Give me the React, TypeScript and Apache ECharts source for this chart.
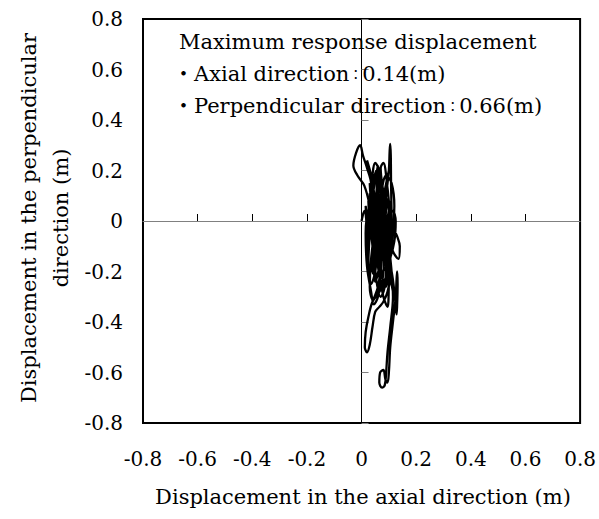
import React, { useEffect, useRef } from "react";
import * as echarts from "echarts";

const axialDisp = [
  0.0, 0.01, 0.02, 0.015, 0.03, 0.025, 0.04, 0.03, 0.05, 0.035,
  0.02, 0.005, -0.005, -0.02, -0.03, -0.015, 0.01, 0.03, 0.045, 0.06,
  0.07, 0.065, 0.05, 0.04, 0.05, 0.065, 0.075, 0.085, 0.095, 0.09,
  0.075, 0.06, 0.045, 0.03, 0.02, 0.035, 0.055, 0.075, 0.1, 0.115,
  0.11, 0.095, 0.08, 0.07, 0.08, 0.095, 0.11, 0.13, 0.14, 0.135,
  0.115, 0.09, 0.06, 0.03, 0.015, 0.02, 0.035, 0.045, 0.06, 0.07,
  0.08, 0.09, 0.1, 0.103, 0.105, 0.107, 0.108, 0.11, 0.112, 0.1,
  0.08, 0.06, 0.04, 0.025, 0.015, 0.012, 0.02, 0.03, 0.04, 0.05,
  0.065, 0.08, 0.095, 0.105, 0.1, 0.085, 0.07, 0.055, 0.045, 0.04,
  0.045, 0.055, 0.07, 0.085, 0.1, 0.115, 0.12, 0.11, 0.09, 0.07,
  0.05, 0.035, 0.03, 0.04, 0.06, 0.075, 0.09, 0.105, 0.1, 0.105,
  0.115, 0.105, 0.095, 0.09, 0.085, 0.075, 0.065, 0.068, 0.08, 0.088,
  0.095, 0.1, 0.105, 0.115, 0.125, 0.13, 0.132, 0.13, 0.128, 0.122,
  0.11, 0.09, 0.07, 0.05, 0.035, 0.03, 0.04, 0.055, 0.065, 0.07,
  0.08, 0.085, 0.08, 0.07, 0.06, 0.05, 0.045, 0.05, 0.065, 0.08,
  0.09, 0.08, 0.06, 0.045, 0.04, 0.055, 0.07, 0.075, 0.065, 0.05,
  0.045, 0.055, 0.065, 0.06, 0.07, 0.09, 0.1, 0.085, 0.06, 0.04,
  0.025, 0.02, 0.03, 0.05, 0.06, 0.055, 0.05, 0.06, 0.08, 0.095,
  0.1, 0.105, 0.1, 0.085, 0.07, 0.06, 0.065, 0.08, 0.09, 0.09,
  0.08, 0.065, 0.045, 0.03, 0.025, 0.035, 0.05, 0.06, 0.065, 0.06,
  0.045, 0.035, 0.04, 0.055, 0.075, 0.1, 0.12, 0.125, 0.115, 0.095,
  0.075, 0.06, 0.05, 0.05
];

const perpDisp = [
  0.0, 0.04, -0.03, 0.06, -0.06, 0.08, -0.1, 0.11, -0.14, 0.15,
  0.21, 0.26, 0.3, 0.27, 0.22, 0.18, 0.14, 0.06, -0.05, -0.16,
  -0.23, -0.15, 0.02, 0.17, 0.23, 0.2, 0.1, -0.05, -0.18, -0.26,
  -0.22, -0.08, 0.09, 0.19, 0.24, 0.18, 0.05, -0.09, -0.2, -0.28,
  -0.2, -0.04, 0.11, 0.21, 0.23, 0.13, -0.01, -0.06, -0.1, -0.15,
  -0.12, -0.02, 0.08, 0.06, -0.05, -0.18, -0.28, -0.33, -0.3, -0.18,
  -0.04, 0.1, 0.2, 0.28, 0.305, 0.26, 0.15, 0.03, -0.08, -0.18,
  -0.25, -0.29, -0.32, -0.38, -0.44, -0.5, -0.52, -0.49, -0.42, -0.36,
  -0.34, -0.32, -0.28, -0.22, -0.12, 0.0, 0.12, 0.2, 0.15, 0.02,
  -0.12, -0.24, -0.3, -0.26, -0.15, -0.05, 0.06, 0.15, 0.18, 0.1,
  -0.02, -0.15, -0.26, -0.31, -0.26, -0.15, -0.03, 0.08, 0.0, -0.15,
  -0.3, -0.42, -0.52, -0.6, -0.65, -0.66, -0.64, -0.6, -0.59, -0.63,
  -0.64, -0.6, -0.5, -0.4, -0.3, -0.2, -0.25, -0.34, -0.37, -0.3,
  -0.2, -0.12, -0.06, -0.01, 0.08, 0.15, 0.1, -0.03, -0.15, -0.27,
  -0.2, -0.08, 0.05, 0.15, 0.1, -0.03, -0.17, -0.24, -0.18, -0.06,
  0.06, 0.11, 0.04, -0.08, -0.2, -0.22, -0.11, 0.0, 0.06, -0.02,
  -0.1, -0.15, -0.08, -0.03, 0.05, 0.14, 0.2, 0.12, -0.04, -0.16,
  -0.22, -0.1, 0.03, 0.16, 0.22, 0.12, -0.02, -0.18, -0.3, -0.34,
  -0.25, -0.1, 0.04, 0.1, 0.0, -0.12, -0.22, -0.27, -0.18, -0.05,
  0.06, 0.12, 0.06, -0.06, -0.18, -0.25, -0.2, -0.08, 0.04, 0.14,
  0.18, 0.1, -0.04, -0.14, -0.2, -0.16, -0.08, 0.0, 0.04, -0.02,
  -0.1, -0.16, -0.1, -0.02
];

const xTitle = "Displacement in the axial direction (m)";
const yTitle = "Displacement in the perpendicular\ndirection (m)";
const noteTitle = "Maximum response displacement";
const noteLabels = ["Axial direction", "Perpendicular direction"];
const noteValues = ["0.14(m)", "0.66(m)"];

const FONT = '"DejaVu Serif", "Noto Sans CJK JP", serif';

export default function App() {
  const ref = useRef<HTMLDivElement>(null);
  useEffect(() => {
    if (!ref.current) return;
    const chart = echarts.init(ref.current, null, { renderer: "svg" });
    const data = axialDisp.map((x, i) => [x, perpDisp[i]]);
    const fmt = (v: number) => (Math.abs(v) < 1e-9 ? "0" : v.toFixed(1));
    const gridL = 143, gridT = 19, gridW = 440, gridH = 404;
    const textStyle = { font: `21px ${FONT}`, fill: "#000", verticalAlign: "middle" };
    chart.setOption({
      animation: false,
      grid: {
        left: gridL, top: gridT, width: gridW, height: gridH,
        show: true, borderColor: "#000", borderWidth: 2, backgroundColor: "#fff",
      },
      xAxis: [
        {
          type: "value", min: -0.8, max: 0.8, interval: 0.2, position: "bottom",
          axisLine: { show: false, onZero: false },
          axisTick: { show: false },
          splitLine: { show: false },
          axisLabel: { margin: 26, color: "#000", fontFamily: FONT, fontSize: 20, formatter: fmt },
        },
        {
          type: "value", min: -0.8, max: 0.8, interval: 0.2, position: "bottom",
          axisLine: { show: true, onZero: true, lineStyle: { color: "#808080", width: 1 } },
          axisTick: { show: true, inside: true, length: 7, lineStyle: { color: "#000", width: 1 } },
          splitLine: { show: false },
          axisLabel: { show: false },
        },
      ],
      yAxis: [
        {
          type: "value", min: -0.8, max: 0.8, interval: 0.2, position: "left",
          axisLine: { show: false, onZero: false },
          axisTick: { show: false },
          splitLine: { show: false },
          axisLabel: { margin: 20, color: "#000", fontFamily: FONT, fontSize: 20, formatter: fmt },
        },
        {
          type: "value", min: -0.8, max: 0.8, interval: 0.2, position: "left",
          axisLine: { show: true, onZero: true, lineStyle: { color: "#000", width: 1 } },
          axisTick: { show: true, inside: true, length: 7, lineStyle: { color: "#808080", width: 1 } },
          splitLine: { show: false },
          axisLabel: { show: false },
        },
      ],
      series: [
        {
          type: "line",
          xAxisIndex: 0,
          yAxisIndex: 0,
          data,
          showSymbol: false,
          smooth: 0.35,
          lineStyle: { color: "#000", width: 2.3 },
          z: 3,
        },
      ],
      graphic: [
        {
          type: "text", x: 363, y: 497,
          style: { ...textStyle, text: xTitle, align: "center" },
        },
        {
          type: "text", x: 45, y: 218, rotation: Math.PI / 2,
          style: { ...textStyle, text: yTitle, align: "center", lineHeight: 32 },
        },
        {
          type: "text", x: 179, y: 42, z: 10,
          style: { ...textStyle, text: noteTitle, align: "left" },
        },
        ...noteLabels.map((t, i) => ({
          type: "text", x: 173, y: 74 + i * 32, z: 10,
          style: {
            ...textStyle,
            align: "left",
            text: `{b|・}${t}{c|：}${noteValues[i]}`,
            rich: {
              b: { font: `21px ${FONT}`, fill: "#000" },
              c: { font: `13px ${FONT}`, fill: "#000" },
            },
          },
        })),
      ],
    });
    return () => chart.dispose();
  }, []);
  return <div ref={ref} style={{ position: "absolute", left: 0, top: 0, width: 599, height: 519 }} />;
}
